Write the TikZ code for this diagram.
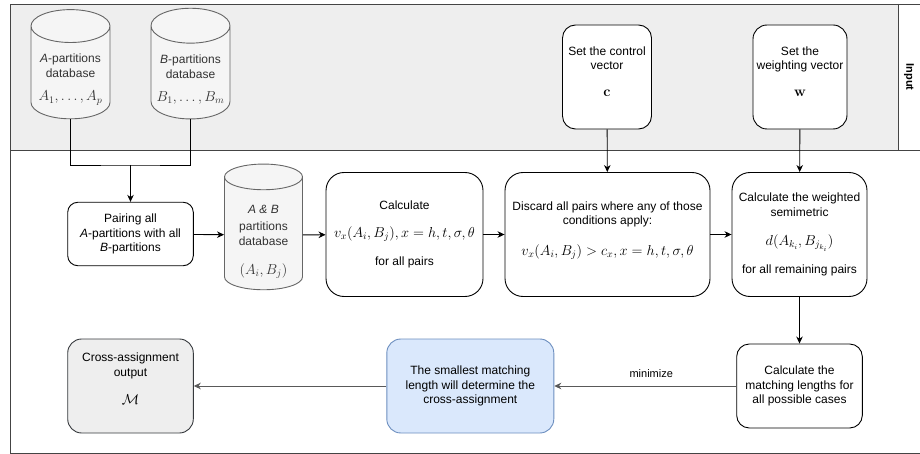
\documentclass[tikz,border=0pt]{standalone}
\usepackage[no-math]{fontspec}
\setmainfont{Liberation Sans}
\usetikzlibrary{shapes.geometric,arrows.meta}

\definecolor{bandgray}{HTML}{EEEEEE}
\definecolor{dbgray}{HTML}{F5F5F5}
\definecolor{dbline}{HTML}{666666}
\definecolor{dbtext}{HTML}{333333}
\definecolor{outline}{HTML}{36393D}
\definecolor{bluefill}{HTML}{DAE8FC}
\definecolor{blueline}{HTML}{6C8EBF}
\definecolor{flowgray}{HTML}{595959}
\definecolor{lanegray}{HTML}{444444}

\newcommand{\mth}[1]{{\fontsize{14.8}{16}\selectfont$#1$}}

\tikzset{
  box/.style={draw, rounded corners=10pt, fill=white, align=center, inner sep=1pt},
  dbase/.style={cylinder, shape border rotate=90, aspect=0.5, draw=dbline,
    fill=dbgray, text=dbtext, align=center, inner sep=1pt},
  arr/.style={-{Stealth[length=7pt,width=6.5pt,inset=2.2pt]}},
}

\begin{document}
\begin{tikzpicture}[x=1pt,y=-1pt,line width=0.9pt,font=\fontsize{12}{14.5}\selectfont]
  \useasboundingbox (0,0) rectangle (920,454);
  % swimlanes
  \fill[bandgray] (10,4) rectangle (898,150);
  \draw[lanegray] (920,4) -- (10,4) -- (10,453) -- (920,453);
  \draw[lanegray] (10,150) -- (920,150);
  \draw[lanegray] (898,4) -- (898,150);
  \node[rotate=-90, font=\bfseries\fontsize{11}{13}\selectfont] (inlab) at (909,77) {Input};

  % input row
  \node[dbase, minimum width=79, minimum height=107] (dbA) at (70.5,74.5)
    {\rule{0pt}{19pt}\textit{A}-partitions\\database\\[9pt]\mth{A_1,\ldots,A_p}};
  \node[dbase, minimum width=79, minimum height=107] (dbB) at (190.5,74.5)
    {\rule{0pt}{19pt}\textit{B}-partitions\\database\\[9pt]\mth{B_1,\ldots,B_m}};
  \node[box, rounded corners=13pt, minimum width=89, minimum height=104] (ctrl) at (607,77)
    {Set the control\\vector\\[12pt]\mth{\mathbf{c}}\\[-3pt]};
  \node[box, rounded corners=14pt, minimum width=94, minimum height=104] (wght) at (800,77)
    {Set the\\weighting vector\\[12pt]\mth{\mathbf{w}}\\[-3pt]};

  % middle row
  \node[box, minimum width=125.6, minimum height=63.4] (pair) at (130.5,234)
    {Pairing all\\\textit{A}-partitions with all\\\textit{B}-partitions};
  \node[dbase, minimum width=78, minimum height=121] (dbAB) at (263.5,235)
    {\rule{0pt}{22pt}\textit{A \& B}\\[3pt]partitions\\database\\[15pt]\mth{(A_i,B_j)}};
  \node[box, rounded corners=18pt, minimum width=157, minimum height=124] (calc) at (404.5,234.5)
    {Calculate\\[13.5pt]\mth{v_x(A_i,B_j), x=h,t,\sigma,\theta}\\[13.5pt]for all pairs};
  \node[box, rounded corners=18pt, minimum width=205, minimum height=124] (disc) at (607.5,234.5)
    {Discard all pairs where any of those\\conditions apply:\\[16pt]\mth{v_x(A_i,B_j)>c_x, x=h,t,\sigma,\theta}\\[-2.5pt]};
  \node[box, rounded corners=18pt, minimum width=135, minimum height=124] (semi) at (799.5,234.5)
    {Calculate the weighted\\semimetric\\[15pt]\mth{d(A_{k_i},B_{j_{k_i}})}\\[12pt]for all remaining pairs};

  % bottom row
  \node[box, rounded corners=12.6pt, minimum width=125.6, minimum height=84] (mlen) at (799.5,386)
    {Calculate the\\matching lengths for\\all possible cases};
  \node[box, rounded corners=14pt, draw=blueline, fill=bluefill, minimum width=167, minimum height=94] (best) at (470.3,386)
    {The smallest matching\\length will determine the\\cross-assignment};
  \node[box, rounded corners=14pt, draw=outline, fill=bandgray, minimum width=125.6, minimum height=94] (outp) at (130.5,386)
    {Cross-assignment\\output\\[14pt]\mth{\mathcal{M}}\\[-0.5pt]};

  % connectors
  \coordinate (join) at (130.5,165);
  \draw (dbA.south) |- (join) -| (dbB.south);
  \draw[arr] (join) -- (pair.north);
  \draw[arr] (pair) -- (dbAB);
  \draw[arr] (dbAB) -- (calc);
  \draw[arr] (calc) -- (disc);
  \draw[arr] (disc) -- (semi);
  \draw[arr] (ctrl) -- (disc);
  \draw[arr] (wght) -- (semi);
  \draw[arr] (semi) -- (mlen);
  \draw[arr, flowgray] (mlen) -- node[above=5pt, xshift=6pt, text=black, font=\fontsize{11}{13}\selectfont] {minimize} (best);
  \draw[arr, flowgray] (best) -- (outp);
\end{tikzpicture}
\end{document}
